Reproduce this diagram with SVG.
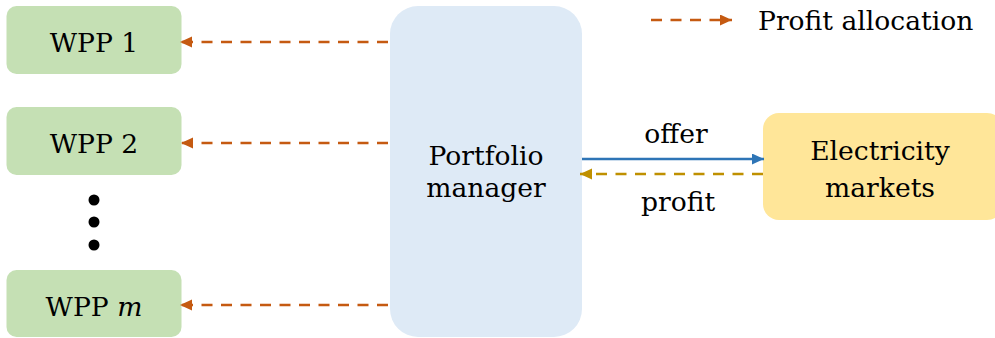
<svg xmlns="http://www.w3.org/2000/svg" width="995" height="338" viewBox="0 0 995 338">
<style>
text{font-family:'DejaVu Serif',serif;font-size:26.6px;fill:#000;text-anchor:middle}
.wpp{fill:#C5E0B4}
.alloc{stroke:#C55A11;stroke-width:2.6;stroke-dasharray:11 8.5;fill:none}
</style>
<defs>
<marker id="ahO" markerUnits="userSpaceOnUse" markerWidth="14" markerHeight="12" refX="12" refY="5.5" orient="auto"><path d="M0,0 L12,5.5 L0,11 Z" fill="#C55A11"/></marker>
<marker id="ahB" markerUnits="userSpaceOnUse" markerWidth="14" markerHeight="12" refX="12" refY="5.5" orient="auto"><path d="M0,0 L12,5.5 L0,11 Z" fill="#2E75B6"/></marker>
<marker id="ahG" markerUnits="userSpaceOnUse" markerWidth="14" markerHeight="12" refX="12" refY="5.5" orient="auto"><path d="M0,0 L12,5.5 L0,11 Z" fill="#BF9000"/></marker>
</defs>
<g id="wpp1"><rect class="wpp" x="6.5" y="6" width="175" height="68" rx="10"/><text x="94" y="52">WPP 1</text></g>
<g id="wpp2"><rect class="wpp" x="6.5" y="107" width="175" height="68" rx="10"/><text x="94" y="153">WPP 2</text></g>
<g id="dots"><circle cx="94" cy="200" r="5.5"/><circle cx="94" cy="222" r="5.5"/><circle cx="94" cy="245" r="5.5"/></g>
<g id="wppm"><rect class="wpp" x="6.5" y="270" width="175" height="67" rx="10"/><text x="94" y="316">WPP <tspan font-style="italic">m</tspan></text></g>
<g id="portfolio"><rect x="390" y="6" width="192" height="331" rx="28" fill="#DEEAF6"/><text x="486" y="165">Portfolio</text><text x="486" y="197">manager</text></g>
<g id="markets"><rect x="763" y="113" width="240" height="107" rx="16" fill="#FFE699"/><text x="880" y="160">Electricity</text><text x="880" y="197">markets</text></g>
<g id="connectors">
<line class="alloc" x1="388" y1="42" x2="180" y2="42" marker-end="url(#ahO)"/>
<line class="alloc" x1="388" y1="143" x2="181" y2="143" marker-end="url(#ahO)"/>
<line class="alloc" x1="388" y1="305" x2="180" y2="305" marker-end="url(#ahO)"/>
<line x1="582" y1="159" x2="764" y2="159" stroke="#2E75B6" stroke-width="2.6" marker-end="url(#ahB)"/>
<line x1="763" y1="174" x2="580" y2="174" stroke="#BF9000" stroke-width="2.6" stroke-dasharray="11 8.5" marker-end="url(#ahG)"/>
<text x="676" y="143">offer</text>
<text x="678" y="211">profit</text>
</g>
<g id="legend">
<line class="alloc" x1="651" y1="20" x2="732" y2="20" marker-end="url(#ahO)"/>
<text x="758" y="30" style="text-anchor:start">Profit allocation</text>
</g>
</svg>
